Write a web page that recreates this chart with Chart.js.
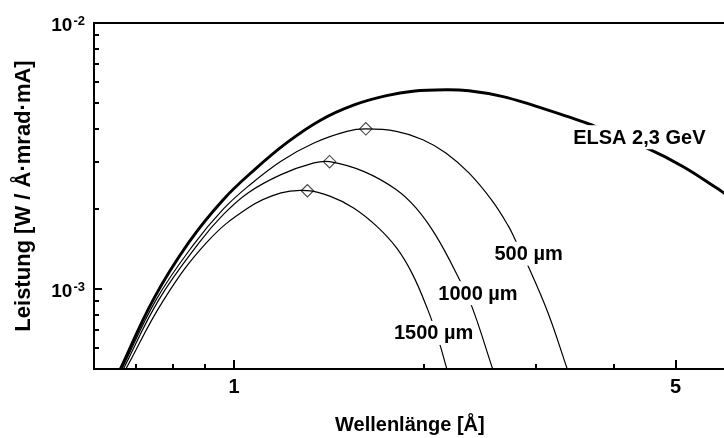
<!DOCTYPE html>
<html><head><meta charset="utf-8">
<script src="https://cdn.jsdelivr.net/npm/chart.js@4.4.1/dist/chart.umd.min.js"></script>
<style>html,body{margin:0;padding:0;background:#fff;overflow:hidden;width:724px;height:438px}canvas{display:block}</style>
</head><body>
<canvas id="c" width="733" height="438"></canvas>
<script>
// ---- data (wavelength in Å, power in W/(Å·mrad·mA)) ----
const elsaLambda = [0.6604, 0.7447, 0.8471, 0.961, 1.0775, 1.215, 1.370, 1.545, 1.743, 1.919, 2.163, 2.353, 2.654, 2.993, 3.376, 3.672, 4.504, 5.14, 5.798, 6.0];
const elsaPower  = [5.0e-4, 9.12e-4, 1.493e-3, 2.166e-3, 2.81e-3, 3.563e-3, 4.311e-3, 4.910e-3, 5.329e-3, 5.540e-3, 5.61e-3, 5.56e-3, 5.30e-3, 4.880e-3, 4.443e-3, 4.147e-3, 3.383e-3, 2.883e-3, 2.40e-3, 2.27e-3];

const f500Lambda = [0.6641, 0.7527, 0.8625, 0.961, 1.0518, 1.1862, 1.3377, 1.5087, 1.6159, 1.8064, 1.9893, 2.1635, 2.3529, 2.5604, 2.7190, 2.7855, 2.9295, 3.1401, 3.3679];
const f500Power  = [5.0e-4, 9.12e-4, 1.468e-3, 1.995e-3, 2.430e-3, 3.024e-3, 3.539e-3, 3.913e-3, 3.995e-3, 3.913e-3, 3.641e-3, 3.245e-3, 2.730e-3, 2.148e-3, 1.719e-3, 1.532e-3, 1.199e-3, 8.125e-4, 5.0e-4];

const f1000Lambda = [0.6677, 0.7602, 0.8815, 0.961, 1.0518, 1.1862, 1.3377, 1.4157, 1.6025, 1.8064, 1.9417, 2.0867, 2.2699, 2.3820, 2.5660];
const f1000Power  = [5.0e-4, 9.12e-4, 1.500e-3, 1.903e-3, 2.296e-3, 2.690e-3, 2.977e-3, 3.011e-3, 2.768e-3, 2.362e-3, 2.013e-3, 1.586e-3, 1.093e-3, 8.504e-4, 5.0e-4];

const f1500Lambda = [0.6738, 0.7741, 0.9073, 1.0518, 1.1862, 1.3058, 1.4208, 1.5456, 1.6808, 1.8064, 1.9138, 2.0253, 2.1076, 2.1713];
const f1500Power  = [5.0e-4, 9.12e-4, 1.506e-3, 2.016e-3, 2.296e-3, 2.342e-3, 2.229e-3, 2.016e-3, 1.722e-3, 1.429e-3, 1.142e-3, 8.36e-4, 6.39e-4, 5.0e-4];

const peakLambda = [1.616, 1.416, 1.306];
const peakPower  = [4.0e-3, 3.01e-3, 2.34e-3];

const curveLabels = ['ELSA 2,3 GeV', '500 µm', '1000 µm', '1500 µm'];
const labelLambda = [4.38, 2.925, 2.432, 2.069];
const labelPower  = [3.72e-3, 1.357e-3, 9.64e-4, 6.83e-4];

const xMajorTicks = [1, 5];
const xTickLabels = ['1', '5'];
const xMinorTicks = [0.7, 0.8, 0.9, 2, 3, 4, 6];
const yMajorTicks = [1e-3, 1e-2];
const yTickBase   = ['10', '10'];
const yTickExp    = ['-3', '-2'];
const yMinorTicks = [6e-4, 7e-4, 8e-4, 9e-4, 2e-3, 3e-3, 4e-3, 5e-3, 6e-3, 7e-3, 8e-3, 9e-3];

const xTitle = 'Wellenlänge [Å]';
const yTitle = 'Leistung [W / Å·mrad·mA]';

// ---- rendering ----
const FONT = "'Liberation Sans', Arial, Helvetica, sans-serif";
function pts(xs, ys) { return xs.map((v, i) => ({x: v, y: ys[i]})); }

const overlay = {
  id: 'overlay',
  afterDatasetsDraw(chart) {
    const {ctx, scales: {x, y}} = chart;
    ctx.save();
    ctx.font = 'bold 20px ' + FONT;
    ctx.textAlign = 'center';
    ctx.textBaseline = 'middle';
    curveLabels.forEach((t, i) => {
      const px = x.getPixelForValue(labelLambda[i]);
      const py = y.getPixelForValue(labelPower[i]);
      const w = ctx.measureText(t).width;
      ctx.fillStyle = '#fff';
      ctx.fillRect(px - w / 2 - 3, py - 12, w + 6, 24);
      ctx.fillStyle = '#000';
      ctx.fillText(t, px, py + 1);
    });
    ctx.restore();
  },
  afterDraw(chart) {
    const {ctx, chartArea: a, scales: {x, y}} = chart;
    ctx.save();
    ctx.strokeStyle = '#000';
    ctx.lineWidth = 2;
    ctx.beginPath();
    ctx.moveTo(a.left - 1, a.top);
    ctx.lineTo(a.right, a.top);
    ctx.stroke();
    const tick = (vals, len, horiz) => {
      vals.forEach(v => {
        ctx.beginPath();
        if (horiz) {
          const p = Math.round(x.getPixelForValue(v));
          ctx.moveTo(p, a.bottom); ctx.lineTo(p, a.bottom - len);
        } else {
          const p = Math.round(y.getPixelForValue(v));
          ctx.moveTo(a.left, p); ctx.lineTo(a.left + len, p);
        }
        ctx.stroke();
      });
    };
    tick(xMajorTicks, 9, true);
    tick(xMinorTicks, 5, true);
    tick(yMajorTicks, 8, false);
    tick(yMinorTicks, 5, false);
    ctx.fillStyle = '#000';
    ctx.textBaseline = 'alphabetic';
    ctx.textAlign = 'left';
    yMajorTicks.forEach((v, i) => {
      const p = y.getPixelForValue(v);
      ctx.font = 'bold 19px ' + FONT;
      const wb = ctx.measureText(yTickBase[i]).width;
      ctx.font = 'bold 13px ' + FONT;
      const we = ctx.measureText(yTickExp[i]).width;
      const right = a.left - 9;
      const start = right - we - 1 - wb;
      ctx.font = 'bold 19px ' + FONT;
      ctx.fillText(yTickBase[i], start, p + 8);
      ctx.font = 'bold 13px ' + FONT;
      ctx.fillText(yTickExp[i], start + wb + 1, p + 2);
    });
    ctx.restore();
  }
};

const thin = {borderColor: '#000', borderWidth: 1.2, pointRadius: 0, fill: false, tension: 0.4};

new Chart(document.getElementById('c'), {
  type: 'line',
  data: {
    datasets: [
      {label: curveLabels[0], data: pts(elsaLambda, elsaPower), borderColor: '#000', borderWidth: 2.9, pointRadius: 0, fill: false, tension: 0.4},
      Object.assign({label: curveLabels[1], data: pts(f500Lambda, f500Power)}, thin),
      Object.assign({label: curveLabels[2], data: pts(f1000Lambda, f1000Power)}, thin),
      Object.assign({label: curveLabels[3], data: pts(f1500Lambda, f1500Power)}, thin),
      {label: 'Maxima', data: pts(peakLambda, peakPower), showLine: false, pointStyle: 'rectRot', pointRadius: 6.2,
       pointBackgroundColor: '#fff', pointBorderColor: '#444', pointBorderWidth: 1.1}
    ]
  },
  options: {
    responsive: false,
    animation: false,
    devicePixelRatio: 1,
    layout: {padding: {top: 23, left: 0, right: 0, bottom: 0}},
    plugins: {legend: {display: false}, tooltip: {enabled: false}},
    scales: {
      x: {
        type: 'logarithmic', position: 'bottom', min: 0.6, max: 6,
        border: {display: true, color: '#000', width: 2},
        grid: {display: false, drawTicks: false},
        afterBuildTicks: s => { s.ticks = xMajorTicks.map(v => ({value: v})); },
        afterFit: s => { s.height = 69; },
        ticks: {
          autoSkip: false, maxRotation: 0, padding: 6, color: '#000',
          font: {family: FONT, size: 20, weight: 'bold'},
          callback: v => { const i = xMajorTicks.indexOf(v); return i >= 0 ? xTickLabels[i] : ''; }
        },
        title: {display: true, text: xTitle, color: '#000', font: {family: FONT, size: 20, weight: 'bold'}, padding: {top: 0, bottom: 1}}
      },
      y: {
        type: 'logarithmic', position: 'left', min: 5e-4, max: 1e-2,
        border: {display: true, color: '#000', width: 2},
        grid: {display: false, drawTicks: false},
        ticks: {display: false},
        afterFit: s => { s.width = 94; },
        title: {display: true, text: yTitle, color: '#000', font: {family: FONT, size: 22, weight: 'bold'}, padding: {top: 11, bottom: 0}}
      }
    }
  },
  plugins: [overlay]
});
</script>
</body></html>
